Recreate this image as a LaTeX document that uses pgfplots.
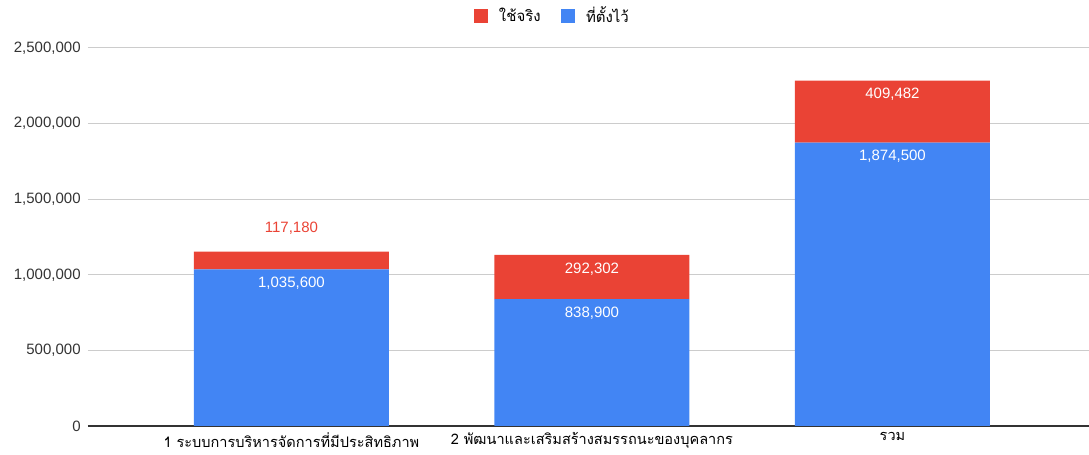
\documentclass[border=0pt]{standalone}
\usepackage{pgfplots}
\pgfplotsset{compat=1.18}
\usepackage{pgfplotstable}
\usepackage{fontspec}
\setmainfont{Liberation Sans}
\newfontfamily\thai[Script=Thai]{Loma}
\definecolor{gred}{HTML}{EA4335}
\definecolor{gblue}{HTML}{4285F4}
\definecolor{gridc}{HTML}{CCCCCC}
\definecolor{txt}{HTML}{333333}
\definecolor{axc}{HTML}{333333}

% dy: label shift (pt) from the middle of its segment
\pgfplotstableread{
x plan planlbl dy
0 1035600 1,035,600 48.2
1 838900 838,900 37.1
2 1874500 1,874,500 95.8
}\plantab
\pgfplotstableread{
x used usedlbl dy lc
0 117180 117,180 24.2 100
1 292302 292,302 6.1 0
2 409482 409,482 12.7 0
}\usedtab

\begin{document}
\begin{tikzpicture}
\begin{axis}[
  scale only axis, width=750.75pt, height=283.5pt,
  ybar stacked, bar width=0.649,
  xmin=-0.677, xmax=2.654, ymin=0, ymax=2500000,
  xtick={0,1,2},
  xticklabels={1 ระบบการบริหารจัดการที่มีประสิทธิภาพ, 2 พัฒนาและเสริมสร้างสมรรถนะของบุคลากร, รวม},
  ytick={0,500000,1000000,1500000,2000000,2500000},
  scaled y ticks=false,
  /pgf/number format/assume math mode=true,
  yticklabel style={/pgf/number format/fixed, /pgf/number format/1000 sep={,}, font=\fontsize{11.25}{13.5}\selectfont, text=txt, xshift=-2pt},
  xticklabel style={font=\thai\fontsize{10.9}{13}\selectfont, text=black, yshift=-1.5pt},
  major tick length=0pt,
  ymajorgrids, grid style={gridc, line width=0.75pt},
  separate axis lines,
  axis y line*=left, y axis line style={draw=none},
  axis x line*=bottom, x axis line style={axc, line width=0.9pt},
  clip=false,
  reverse legend,
  legend style={at={(rel axis cs:0.4645,1.0847)}, anchor=center, draw=none, fill=none,
    legend columns=2, font=\thai\fontsize{11.25}{13.5}\selectfont,
    /tikz/every even column/.append style={column sep=13.5pt}},
  legend image code/.code={\fill[#1] (0pt,-5.25pt) rectangle (10.5pt,5.25pt); \path (16.5pt,0pt);},
]
\addplot[fill=gblue, draw=none, nodes near coords, point meta=explicit symbolic,
  visualization depends on={\thisrow{dy} \as \dy},
  nodes near coords style={anchor=center, yshift=\dy pt, text=white, font=\fontsize{11.25}{13.5}\selectfont}]
  table[x=x, y=plan, meta=planlbl] {\plantab};
\addplot[fill=gred, draw=none, nodes near coords, point meta=explicit symbolic,
  visualization depends on={\thisrow{dy} \as \dy},
  visualization depends on={\thisrow{lc} \as \lc},
  nodes near coords style={anchor=center, yshift=\dy pt, text={gred!\lc!white}, font=\fontsize{11.25}{13.5}\selectfont}]
  table[x=x, y=used, meta=usedlbl] {\usedtab};
\legend{ที่ตั้งไว้, ใช้จริง}
\coordinate (bbl) at (rel axis cs:-0.0879,-0.0741);
\coordinate (btr) at (rel axis cs:1,1.1270);
\end{axis}
\pgfresetboundingbox
\path[use as bounding box] (bbl) rectangle (btr);
\end{tikzpicture}
\end{document}
